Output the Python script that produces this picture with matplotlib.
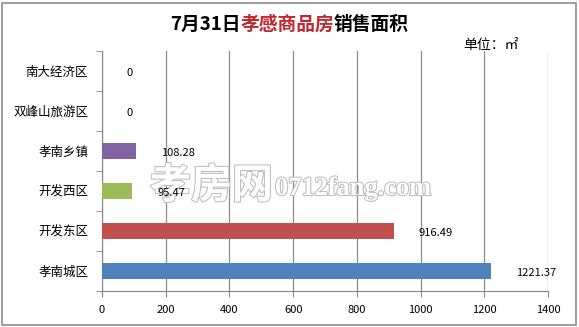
import matplotlib
matplotlib.use("Agg")
import matplotlib.pyplot as plt
import matplotlib.patheffects as pe

plt.rcParams['font.family'] = ['Noto Sans CJK SC', 'DejaVu Sans']

categories = ["孝南城区", "开发东区", "开发西区", "孝南乡镇", "双峰山旅游区", "南大经济区"]
values = [1221.37, 916.49, 95.47, 108.28, 0, 0]
labels = ["1221.37", "916.49", "95.47", "108.28", "0", "0"]
colors = ["#4F81BD", "#C0504D", "#9BBB59", "#8064A2", "#4F81BD", "#4F81BD"]
xticks = [0, 200, 400, 600, 800, 1000, 1200, 1400]

W, H = 579, 327
fig = plt.figure(figsize=(W / 100, H / 100), dpi=100)
fig.patch.set_facecolor("white")

# outer border
border = plt.Rectangle((2 / W, 2 / H), 1 - 5 / W, 1 - 5 / H, transform=fig.transFigure,
                       fill=False, edgecolor="#8c8c8c", lw=1.2)
fig.patches.append(border)

ax = fig.add_axes([102 / W, 1 - 291 / H, (548 - 102) / W, (291 - 51) / H])
y = range(len(categories))
ax.barh(y, values, height=0.42, color=colors, zorder=3)
ax.set_xlim(0, 1400)
ax.set_ylim(-0.5, len(categories) - 0.5)
ax.set_xticks(xticks)
ax.set_xticklabels([str(t) for t in xticks], fontsize=8)
ax.set_yticks(list(y))
ax.set_yticklabels(categories, fontsize=9)
ax.set_yticks([i - 0.5 for i in range(len(categories) + 1)], minor=True)
ax.tick_params(axis='y', which='major', length=0, pad=10)
ax.tick_params(axis='y', which='minor', length=4, color="#868686", direction='out')
ax.tick_params(axis='x', length=4, color="#868686", pad=6)
ax.xaxis.grid(True, color="#8a8a8a", lw=0.9, zorder=0)
for s in ["top", "right"]:
    ax.spines[s].set_visible(False)
for s in ["left", "bottom"]:
    ax.spines[s].set_color("#868686")

# watermark (below the data labels)
ax.text(150 / W, 1 - 198 / H, "孝房网", fontsize=29.5, color="white", fontweight="bold",
        va="baseline", ha="left", zorder=4, transform=fig.transFigure, clip_on=False,
        path_effects=[pe.withStroke(linewidth=1.5, foreground="#bdbdbd")])
ax.text(275 / W, 1 - 195 / H, "0712fang.com", fontsize=19, color="white", fontweight="bold",
        va="baseline", ha="left", zorder=4, transform=fig.transFigure, clip_on=False,
        family=["Liberation Serif", "DejaVu Serif"],
        path_effects=[pe.withStroke(linewidth=1.5, foreground="#bdbdbd")])

for i, (v, lab) in enumerate(zip(values, labels)):
    ax.annotate(lab, xy=(v, i), xytext=(18, -1.5), textcoords="offset points",
                ha="left", va="center", fontsize=8, color="black", zorder=6)

# title in three colours
fig.canvas.draw()
r = fig.canvas.get_renderer()
parts = [("7月31日", "black"), ("孝感商品房", "#C0282D"), ("销售面积", "black")]
tmp = [fig.text(0, 0, p, fontsize=13.5, fontweight="bold") for p, _ in parts]
widths = [t.get_window_extent(r).width for t in tmp]
for t in tmp:
    t.remove()
x0 = (W / 2) - sum(widths) / 2
for (p, c), w in zip(parts, widths):
    fig.text(x0 / W, 1 - 24 / H, p, fontsize=13.5, fontweight="bold", color=c, va="center", ha="left")
    x0 += w

fig.text(463 / W, 1 - 45 / H, "单位：㎡", fontsize=10, color="black", va="center", ha="left")

fig.savefig("out.png", dpi=100)
